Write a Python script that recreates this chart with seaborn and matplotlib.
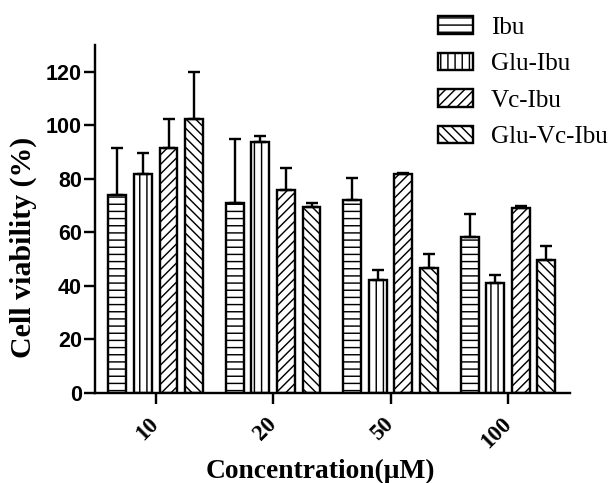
import numpy as np
import pandas as pd
import matplotlib
matplotlib.use("Agg")
import matplotlib.pyplot as plt
import seaborn as sns

# ---- data ----
concentrations = ["10", "20", "50", "100"]
groups = ["Ibu", "Glu-Ibu", "Vc-Ibu", "Glu-Vc-Ibu"]
ibu_mean = [73.8, 71.1, 72.1, 58.4]
ibu_sd = [17.7, 23.8, 8.4, 8.4]
glu_ibu_mean = [81.9, 93.8, 42.2, 41.0]
glu_ibu_sd = [7.8, 2.2, 3.8, 2.9]
vc_ibu_mean = [91.5, 75.9, 81.8, 69.0]
vc_ibu_sd = [10.9, 8.1, 0.5, 1.0]
glu_vc_ibu_mean = [102.4, 69.4, 46.6, 49.7]
glu_vc_ibu_sd = [17.6, 1.7, 5.2, 5.4]
y_ticks = [0, 20, 40, 60, 80, 100, 120]

means = [ibu_mean, glu_ibu_mean, vc_ibu_mean, glu_vc_ibu_mean]
sds = [ibu_sd, glu_ibu_sd, vc_ibu_sd, glu_vc_ibu_sd]
hatches = ["--", "||", "///", "\\\\\\"]

rows = []
for g, m in zip(groups, means):
    for c, v in zip(concentrations, m):
        rows.append({"conc": c, "group": g, "viab": v})
df = pd.DataFrame(rows)

DPI = 86
LW = 2.0
sns.set_style("ticks")
plt.rcParams.update({
    "hatch.linewidth": 1.2,
    "hatch.color": "black",
    "text.color": "black",
    "axes.labelcolor": "black",
    "xtick.color": "black",
    "ytick.color": "black",
    "axes.edgecolor": "black",
})

fig = plt.figure(figsize=(615 / DPI, 483 / DPI), dpi=DPI)
ax = fig.add_axes([95 / 615, 1 - 393 / 483, 475 / 615, 348 / 483])

sns.barplot(data=df, x="conc", y="viab", hue="group", order=concentrations,
            hue_order=groups, palette=["white"] * 4, edgecolor="black",
            linewidth=LW, width=0.872, gap=0.3, errorbar=None, legend=False,
            saturation=1, ax=ax)

bar_containers = list(ax.containers)
for cont, h, sd in zip(bar_containers, hatches, sds):
    xs, ys = [], []
    for p in cont.patches:
        p.set_hatch(h)
        p.set_edgecolor("black")
        xs.append(p.get_x() + p.get_width() / 2)
        ys.append(p.get_height())
    ax.errorbar(xs, ys, yerr=[np.zeros(len(sd)), sd], fmt="none", ecolor="black",
                elinewidth=LW, capsize=5, capthick=LW, zorder=1)

ax.set_xlim(-0.517, 3.528)
ax.set_ylim(0, 130)
ax.set_yticks(y_ticks)
ax.set_yticklabels([str(t) for t in y_ticks], fontfamily="Liberation Sans",
                   fontweight="bold", fontsize=18, color="black")
ax.set_xticks(range(len(concentrations)))
ax.set_xticklabels(concentrations, rotation=45, ha="right", va="center",
                   rotation_mode="anchor",
                   fontfamily="Liberation Serif", fontweight="bold", fontsize=19,
                   color="black")

ax.tick_params(axis="both", direction="out", length=9.5, width=LW, color="black")
ax.tick_params(axis="y", pad=1.3)
ax.tick_params(axis="x", pad=14)
for s in ["top", "right"]:
    ax.spines[s].set_visible(False)
for s in ["left", "bottom"]:
    ax.spines[s].set_linewidth(LW)
    ax.spines[s].set_color("black")

ax.set_xlabel("Concentration(μM)", fontfamily="Liberation Serif", fontweight="bold",
              fontsize=23, color="black")
ax.set_ylabel("Cell viability (%)", fontfamily="Liberation Serif", fontweight="bold",
              fontsize=25, color="black")
ax.xaxis.set_label_coords(0.474, -0.19)
ax.yaxis.set_label_coords(-0.122, 0.418)

handles = [c.patches[0] for c in bar_containers]
leg = ax.legend(handles, groups, loc="upper left",
                bbox_to_anchor=(438 / 615, 1 - 16 / 483),
                bbox_transform=fig.transFigure, frameon=False,
                prop={"family": "Liberation Serif", "size": 21},
                handlelength=1.4, handleheight=0.72, handletextpad=0.72,
                labelspacing=0.55, borderpad=0, borderaxespad=0)
for t in leg.get_texts():
    t.set_color("black")

fig.savefig("out.png", dpi=DPI, facecolor="white")
